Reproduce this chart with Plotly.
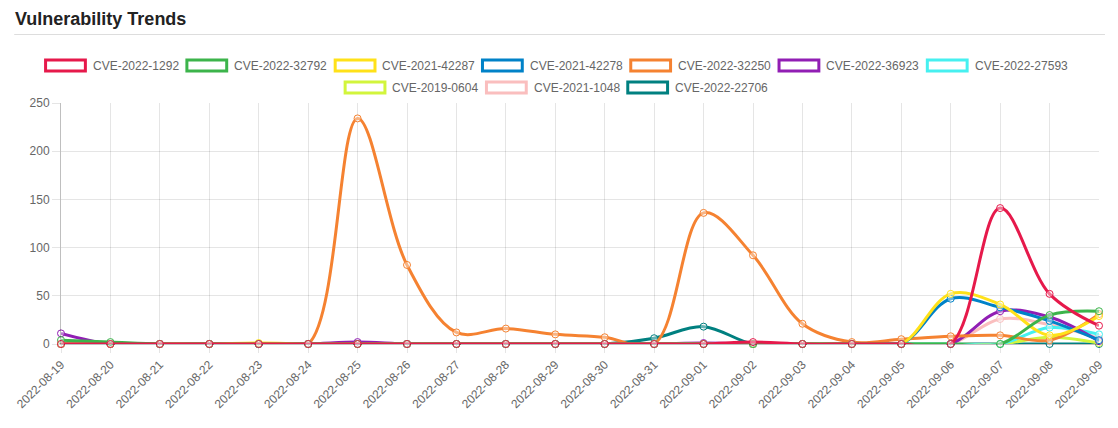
import plotly.graph_objects as go

dates = ["2022-08-19", "2022-08-20", "2022-08-21", "2022-08-22", "2022-08-23", "2022-08-24",
         "2022-08-25", "2022-08-26", "2022-08-27", "2022-08-28", "2022-08-29", "2022-08-30",
         "2022-08-31", "2022-09-01", "2022-09-02", "2022-09-03", "2022-09-04", "2022-09-05",
         "2022-09-06", "2022-09-07", "2022-09-08", "2022-09-09"]

cve_2022_1292  = [0, 0, 0, 0, 0, 0, 0, 0, 0, 0, 0, 0, 0, 0, 2, 0, 0, 0, 0, 141, 52, 19]
cve_2022_32792 = [4, 2, 0, 0, 0, 0, 0, 0, 0, 0, 0, 0, 0, 0, 0, 0, 0, 0, 0, 0, 30, 34]
cve_2021_42287 = [0, 0, 0, 0, 1, 0, 0, 0, 0, 0, 0, 0, 0, 0, 0, 0, 0, 0, 52, 41, 9, 29]
cve_2021_42278 = [0, 0, 0, 0, 0, 0, 0, 0, 0, 0, 0, 0, 0, 0, 0, 0, 0, 0, 47, 38, 24, 4]
cve_2022_32250 = [0, 0, 0, 0, 0, 0, 234, 82, 12, 16, 10, 7, 0, 136, 92, 21, 2, 5, 8, 9, 4, 31]
cve_2022_36923 = [11, 0, 0, 0, 0, 0, 2, 0, 0, 0, 0, 0, 0, 1, 0, 0, 0, 0, 0, 34, 28, 3]
cve_2022_27593 = [0, 0, 0, 0, 0, 0, 0, 0, 0, 0, 0, 0, 0, 0, 0, 0, 0, 0, 0, 0, 17, 10]
cve_2019_0604  = [0, 0, 0, 0, 0, 0, 0, 0, 0, 0, 0, 0, 0, 0, 0, 0, 0, 0, 0, 0, 7, 1]
cve_2021_1048  = [0, 0, 0, 0, 0, 0, 0, 0, 0, 0, 0, 0, 0, 0, 0, 0, 0, 0, 0, 26, 20, 6]
cve_2022_22706 = [0, 0, 0, 0, 0, 0, 0, 0, 0, 0, 0, 0, 6, 18, 0, 0, 0, 0, 0, 0, 0, 0]

names = ["CVE-2022-1292", "CVE-2022-32792", "CVE-2021-42287", "CVE-2021-42278", "CVE-2022-32250",
         "CVE-2022-36923", "CVE-2022-27593", "CVE-2019-0604", "CVE-2021-1048", "CVE-2022-22706"]
series = [cve_2022_1292, cve_2022_32792, cve_2021_42287, cve_2021_42278, cve_2022_32250,
          cve_2022_36923, cve_2022_27593, cve_2019_0604, cve_2021_1048, cve_2022_22706]
colors = ["#e6194b", "#3cb44b", "#ffe119", "#0082c8", "#f58231",
          "#911eb4", "#46f0f0", "#d2f53c", "#fabebe", "#008080"]

W, H = 1118, 428
L, R, T, B = 61, 14, 103, 84
PW, PH = W - L - R, H - T - B

def px2x(px):
    return (px - L) / PW

def py2y(py):
    return (H - B - py) / PH

FONT = "Liberation Sans, Arial, Helvetica, sans-serif"

fig = go.Figure()
# Chart.js draws the first dataset on top, so add in reverse
for name, vals, col in reversed(list(zip(names, series, colors))):
    fig.add_trace(go.Scatter(
        x=dates, y=vals, name=name, mode="lines+markers",
        line=dict(color=col, width=3, shape="spline", smoothing=1.0),
        marker=dict(symbol="circle", size=7, color="rgba(255,255,255,0.4)",
                    line=dict(color=col, width=1)),
        cliponaxis=False, showlegend=False,
    ))

shapes = []
annotations = []

# title + rule
annotations.append(dict(text="<b>Vulnerability Trends</b>", x=px2x(13), y=py2y(19),
                        xref="paper", yref="paper", xanchor="left", yanchor="middle",
                        showarrow=False, font=dict(family=FONT, size=18, color="#222")))
shapes.append(dict(type="line", xref="paper", yref="paper",
                   x0=px2x(14), x1=px2x(1110), y0=py2y(34.5), y1=py2y(34.5),
                   line=dict(color="#dddddd", width=1)))

# manual legend (Chart.js style boxes)
legend_pos = [(44, 65.5), (186, 65.5), (335, 65.5), (483, 65.5), (632, 65.5), (781, 65.5), (930, 65.5),
              (345, 87.5), (487, 87.5), (629, 87.5)]
for (bx, cy), name, col in zip(legend_pos, names, colors):
    shapes.append(dict(type="rect", xref="paper", yref="paper",
                       x0=px2x(bx + 1.5), x1=px2x(bx + 41.5), y0=py2y(cy - 5.5), y1=py2y(cy + 5.5),
                       line=dict(color=col, width=3), fillcolor="white"))
    annotations.append(dict(text=name, x=px2x(bx + 47), y=py2y(cy), xref="paper", yref="paper",
                            xanchor="left", yanchor="middle", showarrow=False,
                            font=dict(family=FONT, size=12, color="#666")))

fig.update_layout(
    width=W, height=H,
    margin=dict(l=L, r=R, t=T, b=B, pad=0),
    paper_bgcolor="white", plot_bgcolor="white",
    font=dict(family=FONT, size=12, color="#666"),
    shapes=shapes, annotations=annotations,
    xaxis=dict(type="category", range=[0, len(dates) - 1], tickangle=-45,
               showgrid=True, gridcolor="rgba(0,0,0,0.1)", gridwidth=1,
               ticks="outside", ticklen=8, tickcolor="rgba(0,0,0,0.1)",
               showline=True, linecolor="rgba(0,0,0,0.25)", linewidth=1,
               tickfont=dict(family=FONT, size=12, color="#666"), zeroline=False),
    yaxis=dict(range=[0, 250], dtick=50, showgrid=True, gridcolor="rgba(0,0,0,0.1)", gridwidth=1,
               ticks="outside", ticklen=8, tickcolor="rgba(0,0,0,0.1)",
               showline=True, linecolor="rgba(0,0,0,0.25)", linewidth=1,
               zeroline=False, tickfont=dict(family=FONT, size=12, color="#666")),
)

fig.write_html("out.html", config={"displayModeBar": False},
               post_script="document.body.style.margin='0';document.body.style.overflow='hidden';")
